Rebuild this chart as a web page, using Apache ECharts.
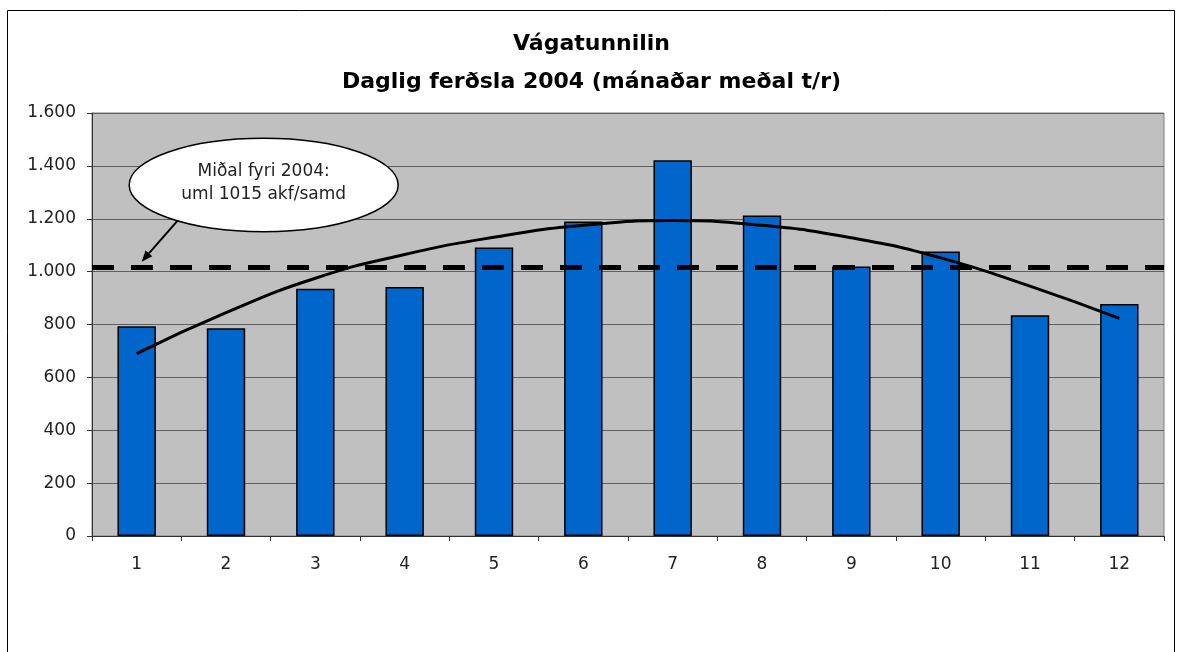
<!DOCTYPE html>
<html>
<head>
<meta charset="utf-8">
<script src="https://cdn.jsdelivr.net/npm/echarts@6/dist/echarts.min.js"></script>
<style>
html,body{margin:0;padding:0;background:#fff;}
#chart{width:1183px;height:652px;}
</style>
</head>
<body>
<div id="chart"></div>
<script>
// ---- data ----
const months = ['1','2','3','4','5','6','7','8','9','10','11','12'];
const dailyTraffic = [793, 786, 935, 942, 1091, 1190, 1421, 1212, 1019, 1076, 835, 878];
const trendValues = [690, 845, 975, 1065, 1130, 1175, 1193, 1175, 1128, 1052, 945, 823];
const averageValue = 1015;
const titleLines = ['Vágatunnilin', 'Daglig ferðsla 2004 (mánaðar meðal t/r)'];
const calloutLines = ['Miðal fyri 2004:', 'uml 1015 akf/samd'];
const yMin = 0, yMax = 1600, yStep = 200;

function fmtThousands(v) {
  if (v >= 1000) {
    return Math.floor(v / 1000) + '.' + String(v % 1000).padStart(3, '0');
  }
  return String(v);
}

const FONT = 'DejaVu Sans';
const chart = echarts.init(document.getElementById('chart'), null, {renderer: 'canvas'});

const option = {
  animation: false,
  backgroundColor: '#ffffff',
  title: {
    text: titleLines.join('\n'),
    left: 'center',
    top: 25,
    padding: [0, 0, 0, 19],
    textStyle: {
      fontFamily: FONT,
      fontWeight: 'bold',
      fontSize: 22,
      lineHeight: 38,
      color: '#000000'
    }
  },
  grid: {
    left: 92,
    right: 19,
    top: 113,
    bottom: 116,
    show: true,
    backgroundColor: '#C0C0C0',
    borderColor: '#808080',
    borderWidth: 1,
    containLabel: false
  },
  xAxis: {
    type: 'category',
    data: months,
    boundaryGap: true,
    axisLine: {show: true, lineStyle: {color: '#333333', width: 1}},
    axisTick: {show: true, length: 5, inside: false, alignWithLabel: false, lineStyle: {color: '#333333'}},
    axisLabel: {fontFamily: FONT, fontSize: 17, color: '#222222', margin: 20},
    splitLine: {show: false}
  },
  yAxis: {
    type: 'value',
    min: yMin,
    max: yMax,
    interval: yStep,
    axisLine: {show: true, lineStyle: {color: '#333333', width: 1}},
    axisTick: {show: true, length: 5, lineStyle: {color: '#333333'}},
    axisLabel: {fontFamily: FONT, fontSize: 17, color: '#222222', margin: 16, formatter: fmtThousands},
    splitLine: {show: true, lineStyle: {color: '#5f5f5f', width: 1}}
  },
  series: [
    {
      name: 'Daglig ferðsla',
      type: 'bar',
      data: dailyTraffic,
      barWidth: '43%',
      itemStyle: {color: '#0066CC', borderColor: '#000000', borderWidth: 1.5},
      z: 2,
      markLine: {
        silent: true,
        symbol: ['none', 'none'],
        label: {show: false},
        lineStyle: {color: '#000000', width: 5, type: [22, 17]},
        data: [{yAxis: averageValue}],
        z: 3
      }
    },
    {
      name: 'Trend',
      type: 'line',
      data: trendValues,
      smooth: true,
      symbol: 'none',
      lineStyle: {color: '#000000', width: 3},
      z: 4
    }
  ]
};

chart.setOption(option);

// ---- callout anchored to the average line at month 1 ----
const p0 = chart.convertToPixel({xAxisIndex: 0, yAxisIndex: 0}, [0, averageValue]);
const tip = [p0[0] + 5, p0[1] - 6];
const start = [p0[0] + 41.6, p0[1] - 47.7];
const ec = [p0[0] + 127, p0[1] - 82.7];
const dx = tip[0] - start[0], dy = tip[1] - start[1];
const len = Math.sqrt(dx * dx + dy * dy);
const ux = dx / len, uy = dy / len;
const hl = 11, hw = 4.5;
const base = [tip[0] - ux * hl, tip[1] - uy * hl];
const headPts = [
  tip,
  [base[0] - uy * hw, base[1] + ux * hw],
  [base[0] + uy * hw, base[1] - ux * hw]
];

chart.setOption({
  graphic: [
    {
      type: 'rect',
      shape: {x: 7.5, y: 10.5, width: 1167, height: 700},
      style: {fill: 'none', stroke: '#000000', lineWidth: 1},
      silent: true,
      z: 0
    },
    {
      type: 'line',
      shape: {x1: start[0], y1: start[1], x2: base[0], y2: base[1]},
      style: {stroke: '#000000', lineWidth: 2},
      z: 10
    },
    {
      type: 'polygon',
      shape: {points: headPts},
      style: {fill: '#000000'},
      z: 10
    },
    {
      type: 'ellipse',
      shape: {cx: ec[0], cy: ec[1], rx: 134.5, ry: 46.7},
      style: {fill: '#ffffff', stroke: '#000000', lineWidth: 1.5},
      z: 11
    },
    {
      type: 'text',
      x: ec[0],
      y: ec[1] - 13.3,
      style: {text: calloutLines[0], fontFamily: FONT, fontSize: 17, fill: '#222222', align: 'center', verticalAlign: 'middle'},
      z: 12
    },
    {
      type: 'text',
      x: ec[0],
      y: ec[1] + 10,
      style: {text: calloutLines[1], fontFamily: FONT, fontSize: 17, fill: '#222222', align: 'center', verticalAlign: 'middle'},
      z: 12
    }
  ]
});
</script>
</body>
</html>
